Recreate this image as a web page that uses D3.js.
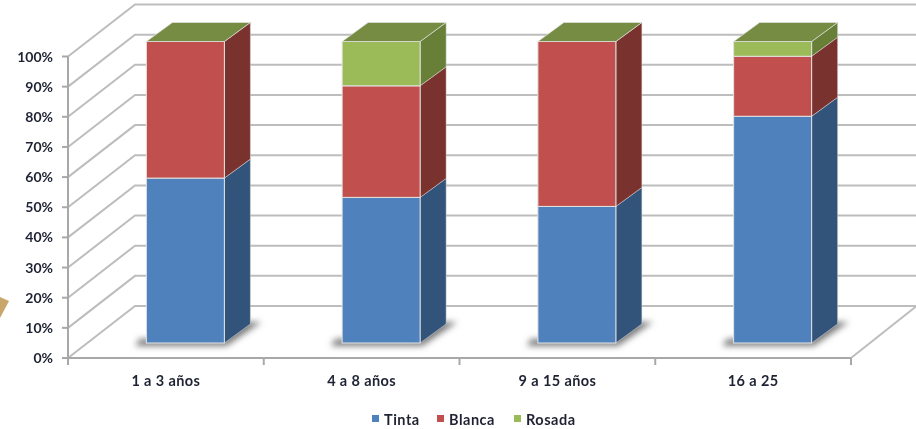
<!DOCTYPE html>
<html>
<head>
<meta charset="utf-8">
<script src="https://cdn.jsdelivr.net/npm/d3@7"></script>
<style>
html,body{margin:0;padding:0;background:#fff}
svg{display:block}
text{font-family:Lato,"Open Sans",sans-serif;font-weight:700;fill:#1f2433}
</style>
</head>
<body>
<svg id="c" width="916" height="429"></svg>
<script>
const categories = ["1 a 3 años","4 a 8 años","9 a 15 años","16 a 25"];
const seriesNames = ["Tinta","Blanca","Rosada"];
const tinta  = [54.7,48.3,45.3,75.2];
const blanca = [45.3,37,54.7,19.9];
const rosada = [0,14.7,0,4.9];
const percentTicks = [0,10,20,30,40,50,60,70,80,90,100];
const frontColors = ["#4f81bd","#c0504d","#9bbb59"];
const sideColors  = ["#31527a","#7a302d","#687f39"];
const topColor = "#758c42";

const svg = d3.select("#c");
const defs = svg.append("defs");
defs.append("filter").attr("id","soft").append("feGaussianBlur").attr("stdDeviation",0.7);
defs.append("filter").attr("id","txt").append("feGaussianBlur").attr("stdDeviation",0.35);
const sh = defs.append("filter").attr("id","shadow").attr("x","-20%").attr("y","-50%").attr("width","140%").attr("height","200%");
sh.append("feGaussianBlur").attr("stdDeviation",3);

const x = d3.scaleBand().domain(categories).range([68,851]);
const y = d3.scaleLinear().domain([0,100]).range([358,56.5]);
const depthX = 67, depthY = 52;           // full floor depth
const barNearX = 19.5, barNearY = 15;     // bar front plane offset
const barDepthX = 26, barDepthY = 19;     // bar own depth
const barW = 78;
const pts = a => a.map(p=>p.join(",")).join(" ");

const grid = svg.append("g").attr("filter","url(#soft)")
  .attr("stroke","#bdbdbd").attr("stroke-width",2).attr("fill","none");
// walls
percentTicks.forEach(t=>{
  grid.append("polyline").attr("points",pts([[68,y(t)],[68+depthX,y(t)-depthY],[916,y(t)-depthY]]));
});
// floor edge at right
grid.append("line").attr("x1",851).attr("y1",358).attr("x2",916).attr("y2",358-depthY+0.5);

// axes
const axis = svg.append("g").attr("filter","url(#soft)")
  .attr("stroke","#a8a8a8").attr("stroke-width",2).attr("fill","none");
axis.append("line").attr("x1",68).attr("x2",68).attr("y1",y(100)).attr("y2",365);
axis.append("line").attr("x1",62).attr("x2",851).attr("y1",358).attr("y2",358);
percentTicks.forEach(t=>axis.append("line").attr("x1",62).attr("x2",68).attr("y1",y(t)).attr("y2",y(t)));
d3.range(categories.length+1).forEach(i=>{
  const xp = 68 + i*x.step();
  axis.append("line").attr("x1",xp).attr("x2",xp).attr("y1",358).attr("y2",365);
});

// bars
const barG = svg.append("g");
categories.forEach((c,i)=>{
  const cx = x(c)+x.bandwidth()/2 + barNearX;
  const x0 = cx-barW/2, x1 = cx+barW/2;
  const base = y(0)-barNearY;
  const yy = v => y(v)-barNearY;
  // shadow
  barG.append("polygon").attr("filter","url(#shadow)").attr("fill","#7a7a7a")
    .attr("points",pts([[x0-11,base+3],[x1+2,base+3],[x1+barDepthX+11,base-barDepthY-2],[x1,base-barDepthY-2],[x1,base-4],[x0-7,base-4]]));
  const vals = [tinta[i],blanca[i],rosada[i]];
  let acc = 0;
  const g = barG.append("g").attr("filter","url(#soft)");
  vals.forEach((v,k)=>{
    if(v<=0) return;
    const a = yy(acc), b = yy(acc+v);
    g.append("polygon").attr("fill",sideColors[k]).attr("stroke","#d8d8d8").attr("stroke-width",0.5)
      .attr("points",pts([[x1,a],[x1+barDepthX,a-barDepthY],[x1+barDepthX,b-barDepthY],[x1,b]]));
    g.append("rect").attr("x",x0).attr("y",b).attr("width",barW).attr("height",a-b)
      .attr("fill",frontColors[k]).attr("stroke","#e4e4e4").attr("stroke-width",1);
    acc += v;
  });
  const t = yy(acc);
  g.append("polygon").attr("fill",topColor).attr("stroke","#e4e4e4").attr("stroke-width",0.7)
    .attr("points",pts([[x0,t],[x1,t],[x1+barDepthX,t-barDepthY],[x0+barDepthX,t-barDepthY]]));
});

// tick labels
const labels = svg.append("g").attr("filter","url(#txt)");
percentTicks.forEach(t=>{
  labels.append("text").attr("x",53).attr("y",y(t)+5).attr("text-anchor","end")
    .attr("font-size",14).text(t+"%");
});
categories.forEach(c=>{
  labels.append("text").attr("x",x(c)+x.bandwidth()/2).attr("y",386).attr("text-anchor","middle")
    .attr("font-size",14.5).attr("letter-spacing",0.4).text(c);
});

// legend
const legendX = [372,437,514];
seriesNames.forEach((s,k)=>{
  labels.append("rect").attr("x",legendX[k]).attr("y",415).attr("width",7).attr("height",7).attr("fill",frontColors[k]);
  labels.append("text").attr("x",legendX[k]+12).attr("y",424.5).attr("font-size",14.5).attr("letter-spacing",0.5).text(s);
});

// fragment of an arrow cut off at the left edge of the picture
svg.append("polygon").attr("fill","#c9a66b").attr("filter","url(#soft)")
  .attr("points",pts([[0,297],[9,301],[0,318]]));
</script>
</body>
</html>
